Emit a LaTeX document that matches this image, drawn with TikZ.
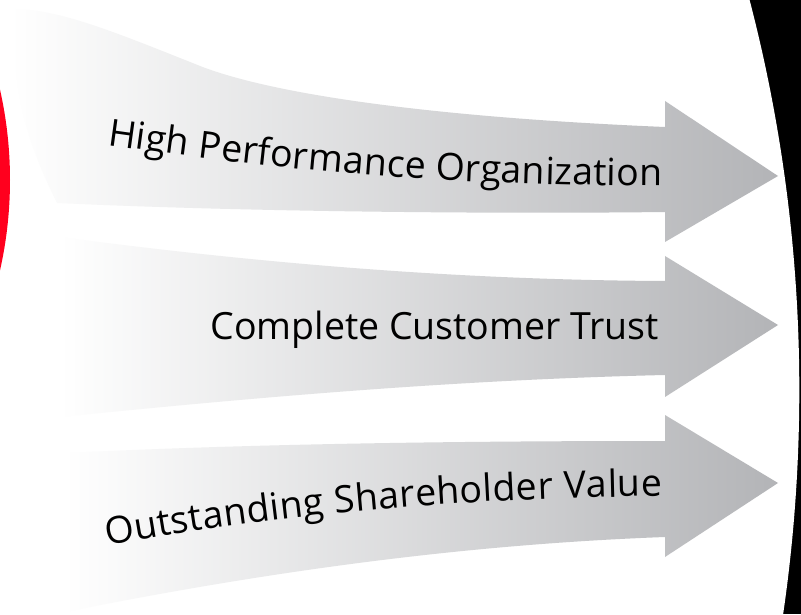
\documentclass[tikz,border=0pt]{standalone}
\usepackage{fontspec}
\setmainfont{Open Sans}
\usetikzlibrary{decorations.text}
\definecolor{agray}{RGB}{179,180,183}
\definecolor{bred}{RGB}{255,0,30}
\newcommand\lblfont{\fontsize{37.5}{42}\selectfont}
\tikzset{
  arrowshade/.style={left color=white, right color=agray, draw=none},
  curvedlabel/.style={decorate, decoration={text along path, text align={fit to path},
    text={|\lblfont|#1}}}
}
\begin{document}
\begin{tikzpicture}[x=1pt,y=1pt]
\useasboundingbox (0,0) rectangle (801,614);
\fill[white] (0,0) rectangle (801,614);
% black band on the right
\fill[black] (700,0) rectangle (801,614);
\fill[white] (-743.7,224) circle (1543);
% red disc on the left
\fill[bred] (-400,434) circle (410);
% arrow 1
\shade[arrowshade] (15,605) .. controls (60,604) and (110,584) .. (200,548)
  .. controls (280,517) and (450,496) .. (665,487) -- (665,513) -- (778,438)
  -- (665,372) -- (665,402) .. controls (500,400) and (250,402) .. (57,411)
  .. controls (30,466) and (10,520) .. (15,605) -- cycle;
% arrow 2
\shade[arrowshade] (60,377) .. controls (250,352) and (450,334) .. (665,333)
  -- (665,358) -- (778,289) -- (665,217) -- (665,239)
  .. controls (450,234) and (250,216) .. (60,197) -- cycle;
% arrow 3
\shade[arrowshade] (65,161) .. controls (250,170) and (450,173) .. (665,173)
  -- (665,199) -- (778,131) -- (665,57) -- (665,77)
  .. controls (450,69) and (250,39) .. (65,2) -- cycle;
% labels
\path[curvedlabel={High Performance Organization}]
  (107,469) .. controls (250,449) and (400,429) .. (662,428);
\node[anchor=base east, inner sep=0pt, font=\lblfont] (trust) at (659,274) {Complete Customer Trust};
\path[curvedlabel={Outstanding Shareholder Value}]
  (107,68) .. controls (250,94) and (400,114) .. (662,118);
\end{tikzpicture}
\end{document}
